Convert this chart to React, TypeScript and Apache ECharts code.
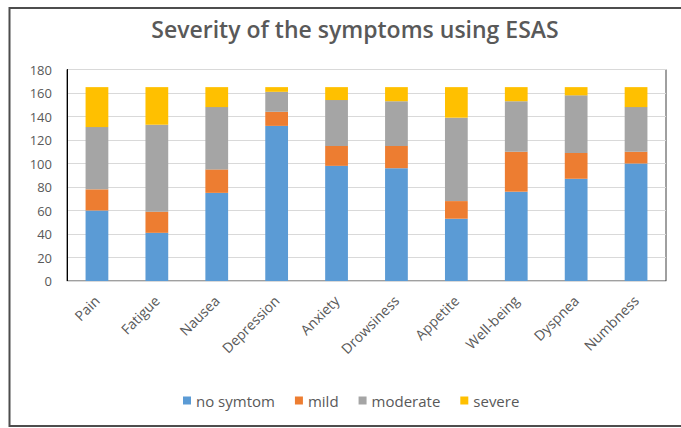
import React, { useEffect, useRef } from "react";
import * as echarts from "echarts";

const categories = ["Pain", "Fatigue", "Nausea", "Depression", "Anxiety", "Drowsiness", "Appetite", "Well-being", "Dyspnea", "Numbness"];
const noSymptom = [60, 41, 75, 132, 98, 96, 53, 76, 87, 100];
const mild = [18, 18, 20, 12, 17, 19, 15, 34, 22, 10];
const moderate = [53, 74, 53, 17, 39, 38, 71, 43, 49, 38];
const severe = [34, 32, 17, 4, 11, 12, 26, 12, 7, 17];
const seriesNames = ["no symtom", "mild", "moderate", "severe"];
const colors = ["#5B9BD5", "#ED7D31", "#A5A5A5", "#FFC000"];

const FONT = "'Open Sans', 'Noto Sans', sans-serif";

export default function App() {
  const ref = useRef<HTMLDivElement>(null);
  useEffect(() => {
    document.body.style.margin = "0";
    const chart = echarts.init(ref.current!, null, { renderer: "svg" });
    const values = [noSymptom, mild, moderate, severe];
    chart.setOption({
      animation: false,
      backgroundColor: "#ffffff",
      title: {
        text: "Severity of the symptoms using ESAS",
        left: 350,
        textAlign: "center",
        top: 12,
        textStyle: { color: "#595959", fontSize: 23, fontWeight: 600, fontFamily: FONT },
      },
      graphic: [
        {
          type: "rect",
          shape: { x: 9.5, y: 8, width: 680, height: 418 },
          style: { fill: "none", stroke: "#4d4d4d", lineWidth: 2 },
          silent: true,
        },
      ],
      legend: {
        top: 388,
        left: 178,
        itemWidth: 8,
        itemHeight: 8,
        itemGap: 20,
        icon: "rect",
        textStyle: { color: "#595959", fontSize: 15, fontFamily: FONT },
        data: seriesNames,
      },
      grid: {
        left: 67,
        right: 15,
        top: 69.5,
        bottom: 147,
        show: true,
        borderColor: "#404040",
        borderWidth: 1,
        containLabel: false,
      },
      xAxis: {
        type: "category",
        data: categories,
        z: 5,
        axisLine: { show: true, lineStyle: { color: "#d9d9d9", width: 1 } },
        axisTick: { show: false },
        axisLabel: {
          rotate: 45,
          color: "#595959",
          fontSize: 14,
          fontWeight: 500,
          fontFamily: FONT,
          margin: 17,
          interval: 0,
        },
      },
      yAxis: {
        type: "value",
        min: 0,
        max: 180,
        interval: 20,
        axisLine: { show: true, lineStyle: { color: "#000000", width: 1 } },
        axisTick: { show: false },
        splitLine: { lineStyle: { color: "#d9d9d9", width: 1 } },
        axisLabel: { color: "#595959", fontSize: 13, fontFamily: FONT, margin: 15 },
      },
      series: values.map((v, i) => ({
        name: seriesNames[i],
        type: "bar",
        stack: "total",
        data: v,
        barWidth: "38%",
        itemStyle: { color: colors[i] },
      })),
    });
    return () => chart.dispose();
  }, []);
  return <div ref={ref} style={{ width: 681, height: 428 }} />;
}
